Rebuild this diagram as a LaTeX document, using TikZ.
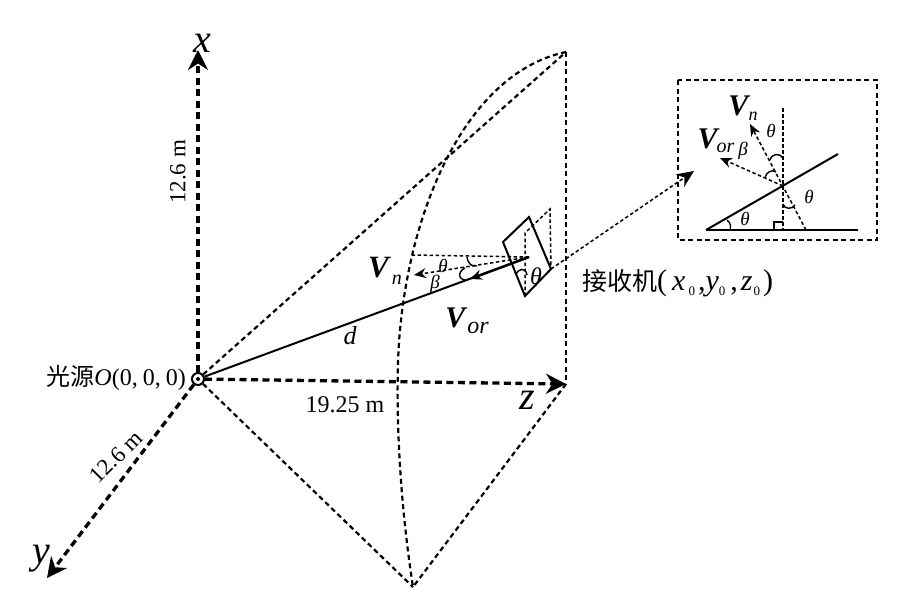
\documentclass[tikz,border=0pt]{standalone}
\usepackage{fontspec}
\setmainfont{Liberation Serif}
\newfontfamily\cjk{Noto Sans CJK SC}
\usetikzlibrary{arrows.meta}
\newcommand{\lab}[1]{\fontsize{#1}{#1}\selectfont}
\newcommand{\vsub}[5]{\lab{#1}\textbf{\textit{V}}\hspace{#4}\raisebox{#3}{\lab{#2}\textit{#5}}}
\newcommand{\zsub}{\raisebox{-5pt}{\lab{13}0}}

\begin{document}
\begin{tikzpicture}[x=1pt, y=-1pt, >={Stealth[length=20pt,width=20pt]},
    axis/.style = {line width=3.3pt, dash pattern=on 7pt off 4.5pt},
    guide/.style = {line width=2.2pt, dash pattern=on 5pt off 3.5pt},
    fine/.style = {line width=1.5pt, dash pattern=on 3.5pt off 2.5pt},
    solid line/.style = {line width=2pt},
    small arc/.style = {line width=1.4pt},
    txt/.style = {inner sep=0pt, font=\lab{23}},
    big/.style = {inner sep=0pt, font=\lab{40}\itshape},
    sym/.style = {inner sep=0pt, font=\lab{19}\itshape}]
    \useasboundingbox (0,0) rectangle (901,598);

    % Nodes
    \coordinate (x) at (198,50);
    \coordinate (y) at (47,578);
    \coordinate (z) at (566,384);
    \coordinate (top) at (566,52);
    \coordinate (bottom) at (413,587);
    \node[circle, draw, line width=2pt, inner sep=0pt, minimum size=12pt] (O) at (198,379) {};
    \fill (O) circle (2pt);

    \coordinate (r1) at (503,242);
    \coordinate (r2) at (529,217);
    \coordinate (r3) at (551,269);
    \coordinate (r4) at (525,296);
    \coordinate (rc) at (529,257);
    \coordinate (rb) at (525,233);
    \coordinate (rt) at (550,209);
    \coordinate (dmid) at (470,279);
    \coordinate (hfoot) at (412,255);
    \coordinate (vn) at (414,275);

    % Inset
    \coordinate (b1) at (678,80);
    \coordinate (b2) at (877,240);
    \coordinate (base1) at (706,230);
    \coordinate (base2) at (858,230);
    \coordinate (slope) at (838,154);
    \coordinate (cross) at (783,186);
    \coordinate (vtop) at (783,108);
    \coordinate (vfoot) at (783,230);
    \coordinate (nfoot) at (806,230);
    \coordinate (ntip) at (750,124);
    \coordinate (ortip) at (720,158);
    \coordinate (link) at (694,171);

    % Edges
    \draw[axis, ->] (O) to (x);
    \draw[axis, ->] (O) to (y);
    \draw[axis, ->] (O) to (z);
    \draw[guide] (O) to (top);
    \draw[guide] (top) to (z);
    \draw[guide] (z) to (bottom);
    \draw[guide] (O) to (bottom);
    \draw[guide] (top) .. controls (470,72) and (412,200) .. (400,330) .. controls (396,370) and (395,470) .. (bottom);

    \draw[solid line] (O) to (rc);
    \draw[solid line, line width=2.4pt, ->, >={Stealth[length=12pt,width=10pt]}] (rc) to (dmid);
    \draw[solid line] (r1) to (r2) to (r3) to (r4) to cycle;
    \draw[fine] (r4) to (rb) to (rt) to (r3);
    \draw[fine] (rc) to (hfoot);
    \draw[fine, ->, >={Stealth[length=12pt,width=10pt]}] (rc) to (vn);
    \draw[fine, ->, >={Stealth[length=17pt,width=15pt]}] (r3) to (link);
    \draw[small arc] (467,257) .. controls (468,264) and (472,267) .. (477,266);
    \draw[small arc] (465,268) .. controls (457,272) and (458,281) .. (468,280);
    \draw[small arc] (516,275) .. controls (518,268) and (526,267) .. (527,275);

    \draw[guide, line width=1.8pt] (b1) rectangle (b2);
    \draw[solid line] (base1) to (base2);
    \draw[solid line] (base1) to (slope);
    \draw[fine] (vtop) to (vfoot);
    \draw[fine, ->, >={Stealth[length=12pt,width=10pt]}] (nfoot) to (ntip);
    \draw[fine, ->, >={Stealth[length=12pt,width=10pt]}] (cross) to (ortip);
    \draw[small arc] (770,160) .. controls (772,153) and (780,153) .. (783,158);
    \draw[small arc] (765,178) .. controls (766,172) and (772,169) .. (776,172);
    \draw[small arc] (783,204) .. controls (784,209) and (792,210) .. (795,205);
    \draw[small arc] (727,220) .. controls (731,223) and (731,227) .. (730,230);
    \draw[small arc] (774,230) to (774,222) to (783,222);

    % Labels
    \node[big] (xlab) at (202,43) {x};
    \node[big] (ylab) at (41,559) {y};
    \node[big] (zlab) at (527,400) {z};
    \node[txt, rotate=90] (len1) at (178,172) {12.6 m};
    \node[txt, rotate=45] (len2) at (116,457) {12.6 m};
    \node[txt, font=\lab{24}] (len3) at (345,405) {19.25 m};
    \node[inner sep=0pt, anchor=east, font=\lab{24}] (src) at (186,378) {{\cjk 光源}\textit{O}(0,\hspace{5pt}0,\hspace{5pt}0)};
    \node[inner sep=0pt, anchor=west, font=\lab{25}] (recv) at (582,283) {{\cjk 接收机}\lab{30}(\hspace{5pt}\textit{x}\hspace{3pt}\zsub\hspace{3pt},\textit{y}\zsub\hspace{5pt},\hspace{3pt}\textit{z}\hspace{1pt}\zsub\hspace{3pt})};
    \node[inner sep=0pt, font=\lab{26}\itshape] (dlab) at (350,336) {d};
    \node[inner sep=0pt] (vnlab) at (385,271) {\vsub{31}{20}{-7pt}{1pt}{n}};
    \node[inner sep=0pt] (vorlab) at (467,321) {\vsub{30}{24}{-6pt}{0pt}{or}};
    \node[sym] (t1) at (443,266) {\symbol{"03B8}};
    \node[sym] (b1lab) at (435,284) {\symbol{"03B2}};
    \node[inner sep=0pt, font=\lab{24}\itshape] (t2) at (536,276) {\symbol{"03B8}};

    \node[inner sep=0pt] (vnin) at (743,108) {\vsub{30}{18}{-5pt}{-2pt}{n}};
    \node[inner sep=0pt] (vorin) at (716,141) {\vsub{30}{20}{-4pt}{-3pt}{or}};
    \node[sym] (t3) at (771,131) {\symbol{"03B8}};
    \node[sym] (b2lab) at (743,151) {\symbol{"03B2}};
    \node[sym] (t4) at (809,197) {\symbol{"03B8}};
    \node[sym] (t5) at (745,219) {\symbol{"03B8}};
\end{tikzpicture}
\end{document}
